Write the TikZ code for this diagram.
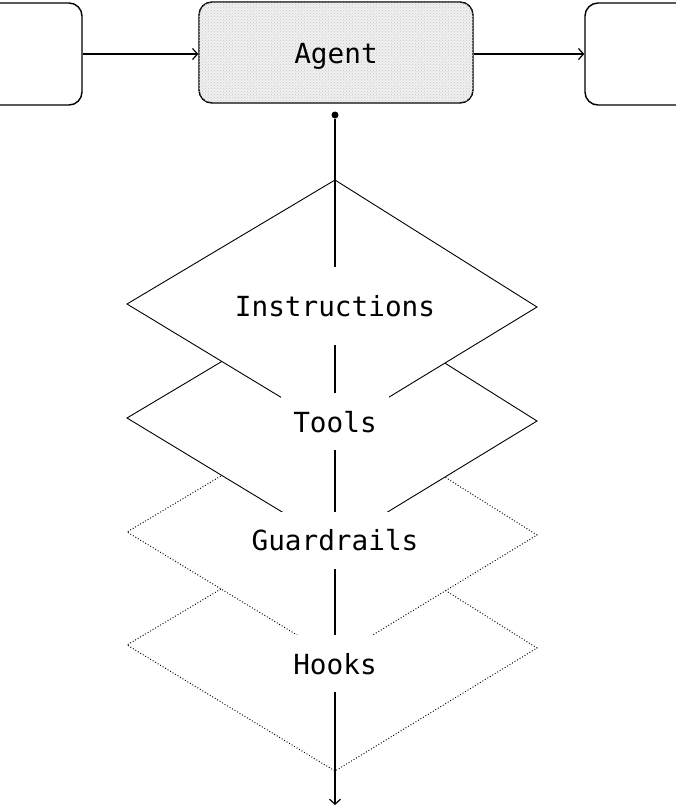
\documentclass[tikz,border=0pt]{standalone}
\usepackage{fontspec}
\setmonofont{DejaVu Sans Mono}
\usetikzlibrary{patterns,arrows.meta}
\begin{document}
\begin{tikzpicture}[x=1pt,y=-1pt,
        box/.style={draw, line width=1.4pt, rounded corners=13pt, minimum width=164pt, minimum height=102pt},
        sheet/.style={draw, fill=white, line width=0.9pt},
        faintsheet/.style={sheet, dotted, line width=1pt},
        tag/.style={fill=white, inner xsep=12pt, inner ysep=0pt, minimum height=57pt, text height=21pt, text depth=0pt, font=\ttfamily\fontsize{27.7}{30}\selectfont},
        flow/.style={-{Straight Barb[length=5pt,width=11pt]}, line width=1.2pt}]
        \clip (0,0) rectangle (676,807);
        \node[box] (in) at (0,54) {};
        \node[box] (out) at (667,54) {};
        \node[box, minimum width=274pt, minimum height=101pt, fill=black!6,
            postaction={pattern=crosshatch dots, pattern color=black!22},
            text height=21pt, text depth=0pt,
            font=\ttfamily\fontsize{27.7}{30}\selectfont] (agent) at (336,52.5) {Agent};
        \draw[flow] (in.east) -- (in.east -| agent.west);
        \draw[flow] (agent.east |- in.east) -- (out.west);
        % stacked layers, lowest first
        \foreach \y/\s in {646/faintsheet, 533/faintsheet, 419/sheet, 305/sheet}
            \draw[\s] (335,\y-125) -- (537,\y+2) -- (335,\y+125) -- (127,\y-1) -- cycle;
        \node[circle, fill, inner sep=0pt, minimum size=7pt] (dot) at (335,115) {};
        \coordinate (end) at (335,805);
        \draw[flow] (dot) -- (end);
        \node[tag, minimum height=78pt] (instructions) at (335,306) {Instructions};
        \node[tag] (tools) at (335,421.5) {Tools};
        \node[tag] (guardrails) at (335,540) {Guardrails};
        \node[tag] (hooks) at (335,663.5) {Hooks};
    \end{tikzpicture}
\end{document}
